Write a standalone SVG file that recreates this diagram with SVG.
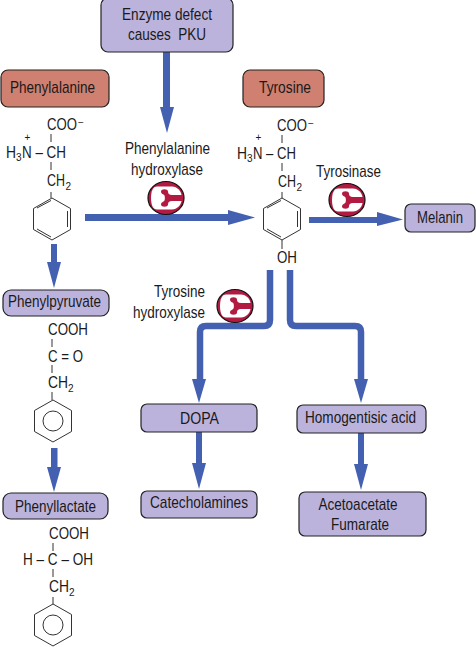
<svg xmlns="http://www.w3.org/2000/svg" width="476" height="647" viewBox="0 0 476 647">
<style>
text{font-family:"Liberation Sans",Arial,sans-serif;font-size:17px;fill:#1a1a1a;text-anchor:middle}
.s{font-size:10px}
.st{text-anchor:start}
.pu{fill:#bcb3dc;stroke:#222;stroke-width:1.2}
.re{fill:#cf8070;stroke:#222;stroke-width:1.2}
.ln{stroke:#333;stroke-width:1;fill:none}
.ar{fill:#4460b0;stroke:none}
.pipe{fill:none;stroke:#4460b0;stroke-width:6.500;stroke-linejoin:round}
</style>
<defs>
<g id="enz">
<ellipse cx="0" cy="0" rx="18" ry="16.500" fill="#b21a42" stroke="#111" stroke-width="1.200"/>
<path d="M-9-11.500H6C11-11.500 15-7 15.500-3V3C15 7 11 11.500 6 11.500H-9C-13 11.500-15 7-15 0C-15-7-13-11.500-9-11.500Z" fill="#fff"/>
<path d="M16-3H6C3-3 2-4.500 2-6.500C2-9.500-5-9.500-5-6.500C-5-4-2.500-4-1.500-2.500C-1-1-1 1-1.500 2.500C-2.500 4-5 4-5 6.500C-5 9.500 2 9.500 2 6.500C2 4.500 3 3 6 3H16Z" fill="#b21a42"/>
</g>
<path id="ring" class="ln" d="M0-21L18.500-10.500V10.500L0 21L-18.500 10.500V-10.500Z"/>
</defs>
<g id="connectors">
<path class="ar" d="M163 52H170V107H174L167 133L160 107H163Z"/>
<path class="ar" d="M85 214H228V210L255 217.500L228 225V221H85Z"/>
<path class="ar" d="M51 244H57V262H61L54 288L47 262H51Z"/>
<path class="ar" d="M309 217H377V212L403 219.500L377 226V223H309Z"/>
<path class="ar" d="M51 448H57.500V467H61L54 492L47 467H51Z"/>
<path class="pipe" d="M270 270V320Q270 326 264 326H206Q200 326 200 332V380"/>
<path class="ar" d="M192 379H206L199 403Z"/>
<path class="pipe" d="M290 270V320Q290 326 296 326H355Q361 326 361 332V380"/>
<path class="ar" d="M354 379H368L361 403Z"/>
<path class="ar" d="M196 432H202V463H206L199 489L192 463H196Z"/>
<path class="ar" d="M358 433H364V464H368L361 490L354 464H358Z"/>
</g>
<g id="enzyme-defect"><rect class="pu" x="101" y="-2" width="132" height="54" rx="7"/><text x="167" y="20" textLength="90" lengthAdjust="spacingAndGlyphs">Enzyme defect</text><text x="167" y="40" textLength="78" lengthAdjust="spacingAndGlyphs" xml:space="preserve">causes  PKU</text></g>
<g id="phenylalanine"><rect class="re" x="1" y="70" width="108" height="37" rx="7"/><text x="52.500" y="93" textLength="85" lengthAdjust="spacingAndGlyphs">Phenylalanine</text></g>
<g id="tyrosine"><rect class="re" x="243" y="70" width="81" height="37" rx="7"/><text x="285" y="93" textLength="52" lengthAdjust="spacingAndGlyphs">Tyrosine</text></g>
<g id="melanin"><rect class="pu" x="405" y="204" width="70" height="28" rx="6"/><text x="440" y="223" textLength="46" lengthAdjust="spacingAndGlyphs">Melanin</text></g>
<g id="phenylpyruvate"><rect class="pu" x="3" y="290" width="106" height="26" rx="8"/><text x="54.500" y="307" textLength="93" lengthAdjust="spacingAndGlyphs">Phenylpyruvate</text></g>
<g id="phenyllactate"><rect class="pu" x="3" y="493" width="105" height="26" rx="8"/><text x="55.500" y="512" textLength="81" lengthAdjust="spacingAndGlyphs">Phenyllactate</text></g>
<g id="dopa"><rect class="pu" x="141" y="404" width="116" height="28" rx="6"/><text x="199.500" y="424" textLength="39" lengthAdjust="spacingAndGlyphs">DOPA</text></g>
<g id="catecholamines"><rect class="pu" x="141" y="491" width="116" height="27" rx="6"/><text x="199" y="508" textLength="98" lengthAdjust="spacingAndGlyphs">Catecholamines</text></g>
<g id="homogentisic"><rect class="pu" x="297" y="405" width="129" height="28" rx="6"/><text x="360.500" y="423" textLength="111" lengthAdjust="spacingAndGlyphs">Homogentisic acid</text></g>
<g id="acetoacetate"><rect class="pu" x="299" y="492" width="127" height="44" rx="6"/><text x="358" y="510" textLength="79" lengthAdjust="spacingAndGlyphs">Acetoacetate</text><text x="360" y="530" textLength="58" lengthAdjust="spacingAndGlyphs">Fumarate</text></g>
<g id="phe-hydroxylase"><text x="167.500" y="154" textLength="85" lengthAdjust="spacingAndGlyphs">Phenylalanine</text><text x="167" y="175" textLength="72" lengthAdjust="spacingAndGlyphs">hydroxylase</text><use href="#enz" x="166" y="198"/></g>
<g id="tyrosinase"><text x="348.500" y="177" textLength="65" lengthAdjust="spacingAndGlyphs">Tyrosinase</text><use href="#enz" x="347" y="200"/></g>
<g id="tyr-hydroxylase"><text x="179.500" y="297" textLength="51" lengthAdjust="spacingAndGlyphs">Tyrosine</text><text x="169" y="318" textLength="72" lengthAdjust="spacingAndGlyphs">hydroxylase</text><use href="#enz" x="235" y="306"/></g>
<g id="phe-structure">
<text class="st"><tspan x="47" y="130" textLength="30" lengthAdjust="spacingAndGlyphs">COO</tspan><tspan x="78" y="126" class="s">−</tspan></text>
<text class="st" xml:space="preserve"><tspan x="24.500" y="141" class="s">+</tspan><tspan x="6" y="158" textLength="10" lengthAdjust="spacingAndGlyphs">H</tspan><tspan x="16" y="161" class="s">3</tspan><tspan x="22" y="158" textLength="44" lengthAdjust="spacingAndGlyphs">N – CH</tspan></text>
<text class="st"><tspan x="47" y="186" textLength="18" lengthAdjust="spacingAndGlyphs">CH</tspan><tspan x="65.500" y="190" class="s">2</tspan></text>
<path class="ln" d="M51 134V142M51 162V170M51 192V198"/>
<use href="#ring" x="52" y="219"/>
<path class="ln" d="M67.500 211V227M37 208L51 200.500M37 229L51 237"/>
</g>
<g id="tyr-structure">
<text class="st"><tspan x="277" y="131" textLength="30" lengthAdjust="spacingAndGlyphs">COO</tspan><tspan x="308" y="127" class="s">−</tspan></text>
<text class="st" xml:space="preserve"><tspan x="255.500" y="141" class="s">+</tspan><tspan x="237" y="159" textLength="10" lengthAdjust="spacingAndGlyphs">H</tspan><tspan x="247" y="162" class="s">3</tspan><tspan x="253" y="159" textLength="43" lengthAdjust="spacingAndGlyphs">N – CH</tspan></text>
<text class="st"><tspan x="278" y="187" textLength="18" lengthAdjust="spacingAndGlyphs">CH</tspan><tspan x="296.500" y="191" class="s">2</tspan></text>
<path class="ln" d="M282 135V143M282 163V171M282 192V198M282 240V249"/>
<use href="#ring" x="282" y="219"/>
<path class="ln" d="M297.500 211V227M267 208L281 200.500M267 229L281 237"/>
<text x="277" y="263" class="st" textLength="20" lengthAdjust="spacingAndGlyphs">OH</text>
</g>
<g id="pyruvate-structure">
<text x="48" y="335" class="st" textLength="40" lengthAdjust="spacingAndGlyphs">COOH</text>
<text x="48" y="362" class="st" textLength="35" lengthAdjust="spacingAndGlyphs" xml:space="preserve">C = O</text>
<text class="st"><tspan x="48" y="388" textLength="20" lengthAdjust="spacingAndGlyphs">CH</tspan><tspan x="68" y="392" class="s">2</tspan></text>
<path class="ln" d="M52 339V347M52 365V373M52 392V400"/>
<use href="#ring" x="53" y="421"/><circle class="ln" cx="53" cy="421" r="10"/>
</g>
<g id="lactate-structure">
<text x="49" y="539" class="st" textLength="40" lengthAdjust="spacingAndGlyphs">COOH</text>
<text x="23" y="565" class="st" textLength="70" lengthAdjust="spacingAndGlyphs" xml:space="preserve">H – C – OH</text>
<text class="st"><tspan x="49" y="592" textLength="20" lengthAdjust="spacingAndGlyphs">CH</tspan><tspan x="69" y="596" class="s">2</tspan></text>
<path class="ln" d="M53 543V551M53 569V577M53 597V604"/>
<use href="#ring" x="53" y="625"/><circle class="ln" cx="53" cy="625" r="10"/>
</g>
</svg>
